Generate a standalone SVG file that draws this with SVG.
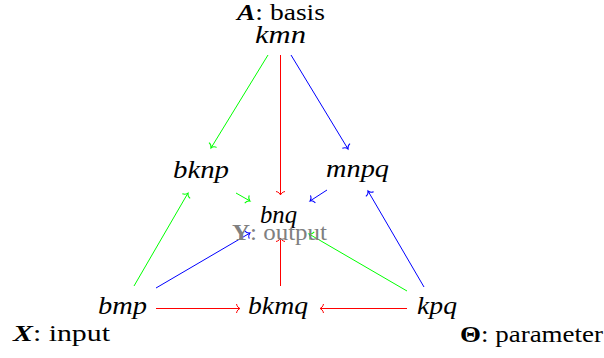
<svg xmlns="http://www.w3.org/2000/svg" width="604" height="358" viewBox="0 0 604 358">
<style>
.m{font-family:"Liberation Serif","DejaVu Serif",serif;font-style:italic;font-size:25px;fill:#000}
.t{font-family:"Liberation Serif","DejaVu Serif",serif;font-size:24px;fill:#000}
.b{font-weight:bold}
.i{font-style:italic}
.gray{fill:#808080}
.r{stroke:#ff0000;stroke-width:1;fill:none}
.g{stroke:#00ff00;stroke-width:1;fill:none}
.bl{stroke:#0000ff;stroke-width:1;fill:none}
</style>
<defs>
<marker id="ar" markerUnits="userSpaceOnUse" viewBox="-6 -6 8 12" markerWidth="8" markerHeight="12" refX="0" refY="0" orient="auto" overflow="visible"><path d="M-3.5,-4.5 C-3,-1.8 -1.2,-0.4 0,0 C-1.2,0.4 -3,1.8 -3.5,4.5" stroke="#ff0000" stroke-width="1" fill="none"/></marker>
<marker id="ag" markerUnits="userSpaceOnUse" viewBox="-6 -6 8 12" markerWidth="8" markerHeight="12" refX="0" refY="0" orient="auto" overflow="visible"><path d="M-3.5,-4.5 C-3,-1.8 -1.2,-0.4 0,0 C-1.2,0.4 -3,1.8 -3.5,4.5" stroke="#00ff00" stroke-width="1" fill="none"/></marker>
<marker id="ab" markerUnits="userSpaceOnUse" viewBox="-6 -6 8 12" markerWidth="8" markerHeight="12" refX="0" refY="0" orient="auto" overflow="visible"><path d="M-3.5,-4.5 C-3,-1.8 -1.2,-0.4 0,0 C-1.2,0.4 -3,1.8 -3.5,4.5" stroke="#0000ff" stroke-width="1" fill="none"/></marker>
</defs>
<g id="connectors">
<line class="g" x1="268" y1="55" x2="211" y2="148" marker-end="url(#ag)"/>
<line class="r" x1="280.5" y1="55" x2="280.5" y2="195" marker-end="url(#ar)"/>
<line class="bl" x1="291" y1="55" x2="348" y2="149" marker-end="url(#ab)"/>
<line class="g" x1="236" y1="193" x2="250" y2="201" marker-end="url(#ag)"/>
<line class="bl" x1="327" y1="190" x2="310" y2="201" marker-end="url(#ab)"/>
<line class="g" x1="134" y1="286" x2="188" y2="193" marker-end="url(#ag)"/>
<line class="bl" x1="156" y1="288" x2="250" y2="233" marker-end="url(#ab)"/>
<line class="bl" x1="424" y1="287" x2="368" y2="191" marker-end="url(#ab)"/>
<line class="g" x1="407" y1="291" x2="309" y2="234" marker-end="url(#ag)"/>
<line class="r" x1="280.5" y1="286" x2="280.5" y2="238" marker-end="url(#ar)"/>
<line class="r" x1="156" y1="308.5" x2="240" y2="308.5" marker-end="url(#ar)"/>
<line class="r" x1="407" y1="308.5" x2="320" y2="308.5" marker-end="url(#ar)"/>
</g>
<g id="kmn">
<text class="t" x="237" y="20" textLength="88" lengthAdjust="spacingAndGlyphs"><tspan class="b i">A</tspan>: basis</text>
<text class="m" x="255" y="43" textLength="51" lengthAdjust="spacingAndGlyphs">kmn</text>
</g>
<g id="bknp"><text class="m" x="173" y="178" textLength="56" lengthAdjust="spacingAndGlyphs">bknp</text></g>
<g id="mnpq"><text class="m" x="326" y="177" textLength="63" lengthAdjust="spacingAndGlyphs">mnpq</text></g>
<g id="bnq">
<text class="m" x="260" y="223" textLength="37" lengthAdjust="spacingAndGlyphs">bnq</text>
<text class="t gray" x="232" y="240" textLength="95" lengthAdjust="spacingAndGlyphs"><tspan class="b">Y</tspan>: output</text>
</g>
<g id="bmp">
<text class="m" x="98" y="314" textLength="49" lengthAdjust="spacingAndGlyphs">bmp</text>
<text class="t" x="13" y="341" textLength="97" lengthAdjust="spacingAndGlyphs"><tspan class="b i">X</tspan>: input</text>
</g>
<g id="bkmq"><text class="m" x="248" y="314" textLength="60" lengthAdjust="spacingAndGlyphs">bkmq</text></g>
<g id="kpq">
<text class="m" x="417" y="314" textLength="40" lengthAdjust="spacingAndGlyphs">kpq</text>
<text class="t" x="460" y="342" textLength="143" lengthAdjust="spacingAndGlyphs"><tspan class="b">Θ</tspan>: parameter</text>
</g>
</svg>
